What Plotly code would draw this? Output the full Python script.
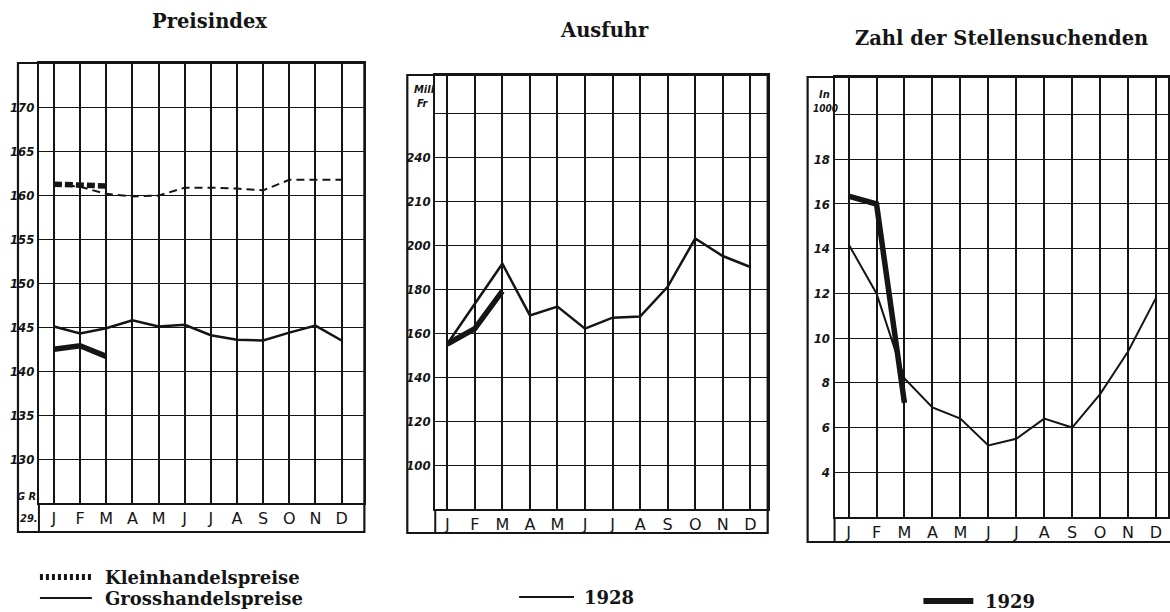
import plotly.graph_objects as go

# ---------------- data ----------------
months = ["J", "F", "M", "A", "M", "J", "J", "A", "S", "O", "N", "D"]
month_idx = list(range(12))
idx_1929 = [0, 1, 2]

klein_1928 = [161.3, 161.0, 160.2, 159.9, 160.0, 160.9, 160.9, 160.8, 160.6, 161.8, 161.8, 161.8]
klein_1929 = [161.3, 161.2, 161.1]
gross_1928 = [145.1, 144.3, 144.9, 145.8, 145.1, 145.3, 144.1, 143.6, 143.5, 144.4, 145.2, 143.5]
gross_1929 = [142.5, 142.9, 141.7]

ausfuhr_1928 = [155, 173, 191.5, 168, 172, 162, 167, 167.5, 181, 203, 195, 190]
ausfuhr_1929 = [155, 162, 179]

stellen_1928 = [14.2, 12.0, 8.2, 6.9, 6.4, 5.2, 5.5, 6.4, 6.0, 7.5, 9.4, 11.8]
stellen_1929 = [16.35, 16.0, 7.1]

p1_tickvals = [170, 165, 160, 155, 150, 145, 140, 135, 130]
p1_ticktext = ["170", "165", "160", "155", "150", "145", "140", "135", "130"]
p2_tickvals = [260, 240, 220, 200, 180, 160, 140, 120, 100]
p2_ticktext = ["", "240", "210", "200", "180", "160", "140", "120", "100"]
p3_tickvals = [20, 18, 16, 14, 12, 10, 8, 6, 4]
p3_ticktext = ["", "18", "16", "14", "12", "10", "8", "6", "4"]

titles = ["Preisindex", "Ausfuhr", "Zahl der Stellensuchenden"]
legend_labels = ["Kleinhandelspreise", "Grosshandelspreise", "1928", "1929"]

# ---------------- layout helpers ----------------
W, H = 1170, 612


def fx(p):
    return p / W


def fy(p):
    return 1 - p / H


INK = "#151515"
THIN = 2
THICK = 5.5
NUMFONT = "Liberation Sans Narrow, DejaVu Sans Condensed, Liberation Sans, sans-serif"

# panel geometry in pixels
panels = [
    dict(outer=18, div=39, right=365, top=63, band=503, bottom=532, j=54, step=26.2,
         yr=[125.0, 175.1], tv=p1_tickvals, tt=p1_ticktext),
    dict(outer=408, div=436, right=769, top=75, band=509, bottom=533, j=448, step=27.6,
         yr=[80.0, 277.3], tv=p2_tickvals, tt=p2_ticktext),
    dict(outer=809, div=836, right=1170, top=77, band=517, bottom=542, j=850, step=28.0,
         yr=[2.0, 21.68], tv=p3_tickvals, tt=p3_ticktext),
]

fig = go.Figure()


def line(xs, ys, ax, width, dash="solid"):
    fig.add_trace(go.Scatter(
        x=xs, y=ys, mode="lines", xaxis=ax[0], yaxis=ax[1],
        line=dict(color=INK, width=width, dash=dash), showlegend=False,
        hoverinfo="skip"))


line(month_idx, klein_1928, ("x", "y"), THIN, "8px,5px")
line(idx_1929, klein_1929, ("x", "y"), THICK, "8px,3px")
line(month_idx, gross_1928, ("x", "y"), THIN + 0.5)
line(idx_1929, gross_1929, ("x", "y"), THICK)
line(month_idx, ausfuhr_1928, ("x2", "y2"), THIN + 0.5)
line(idx_1929, ausfuhr_1929, ("x2", "y2"), THICK)
line(month_idx, stellen_1928, ("x3", "y3"), THIN)
line(idx_1929, stellen_1929, ("x3", "y3"), THICK)

layout = dict(
    width=W, height=H, margin=dict(l=0, r=0, t=0, b=0),
    paper_bgcolor="white", plot_bgcolor="white", showlegend=False,
)
shapes = []
annotations = []
for i, p in enumerate(panels):
    sfx = "" if i == 0 else str(i + 1)
    xl = (p["div"] - p["j"]) / p["step"]
    xr = (p["right"] - p["j"]) / p["step"]
    layout["xaxis" + sfx] = dict(
        domain=[fx(p["div"]), fx(p["right"])], range=[xl, xr],
        anchor="y" + sfx, tickmode="array", tickvals=month_idx, ticktext=months,
        showgrid=True, gridcolor=INK, gridwidth=1.5, zeroline=False,
        showline=True, linecolor=INK, linewidth=2, mirror=True,
        ticks="", tickfont=dict(family="DejaVu Sans", size=16, color=INK),
        fixedrange=True,
    )
    layout["yaxis" + sfx] = dict(
        domain=[fy(p["band"]), fy(p["top"])], range=p["yr"],
        anchor="x" + sfx, tickmode="array", tickvals=p["tv"], ticktext=p["tt"],
        showgrid=True, gridcolor=INK, gridwidth=1.4, zeroline=False,
        showline=True, linecolor=INK, linewidth=2, mirror=True,
        ticks="", tickfont=dict(family=NUMFONT, size=13, color=INK,
                                style="italic", weight="bold"),
        fixedrange=True,
    )
    # outer frame
    shapes.append(dict(type="rect", xref="paper", yref="paper",
                       x0=fx(p["outer"]), x1=fx(p["right"] + (20 if i == 2 else 0)),
                       y0=fy(p["bottom"]), y1=fy(p["top"]),
                       line=dict(color=INK, width=2.2)))
    # divider extension into band
    shapes.append(dict(type="line", xref="paper", yref="paper",
                       x0=fx(p["div"]), x1=fx(p["div"]),
                       y0=fy(p["band"]), y1=fy(p["bottom"]),
                       line=dict(color=INK, width=2)))


def note(text, x, y, font, xanchor="center"):
    annotations.append(dict(text=text, x=fx(x), y=fy(y), xref="paper", yref="paper",
                            xanchor=xanchor, yanchor="middle", showarrow=False, font=font))


# titles
title_pos = [(210, 22), (606, 30), (1003, 38)]
for t, (tx, ty) in zip(titles, title_pos):
    note("<b>%s</b>" % t, tx, ty, dict(family="DejaVu Serif", size=19.5, color=INK))

# unit notes
small = dict(family=NUMFONT, size=11, color=INK, style="italic", weight="bold")
note("G R.", 29, 496, small)
note("29.", 29, 518, small)
note("Mill", 425, 89, small)
note("Fr", 424, 103, small)
note("In", 826, 94, small)
note("1000", 827, 108, dict(family=NUMFONT, size=10, color=INK, style="italic", weight="bold"))

# legend
leg_font = dict(family="DejaVu Serif", size=18, color=INK)
leg_pos = [(103, 577), (103, 598), (583, 597), (985, 601)]
for t, (lx, ly) in zip(legend_labels, leg_pos):
    note("<b>%s</b>" % t, lx, ly, leg_font, xanchor="left")
shapes += [
    dict(type="line", xref="paper", yref="paper", x0=fx(40), x1=fx(92), y0=fy(577), y1=fy(577),
         line=dict(color=INK, width=6, dash="3px,3px")),
    dict(type="line", xref="paper", yref="paper", x0=fx(40), x1=fx(92), y0=fy(598), y1=fy(598),
         line=dict(color=INK, width=2)),
    dict(type="line", xref="paper", yref="paper", x0=fx(520), x1=fx(575), y0=fy(597), y1=fy(597),
         line=dict(color=INK, width=2)),
    dict(type="line", xref="paper", yref="paper", x0=fx(925), x1=fx(975), y0=fy(601), y1=fy(601),
         line=dict(color=INK, width=6)),
]

layout["shapes"] = shapes
layout["annotations"] = annotations
fig.update_layout(**layout)
fig.write_html(
    "out.html",
    config={"displayModeBar": False},
    post_script="document.body.style.margin='0';document.body.style.overflow='hidden';",
)
